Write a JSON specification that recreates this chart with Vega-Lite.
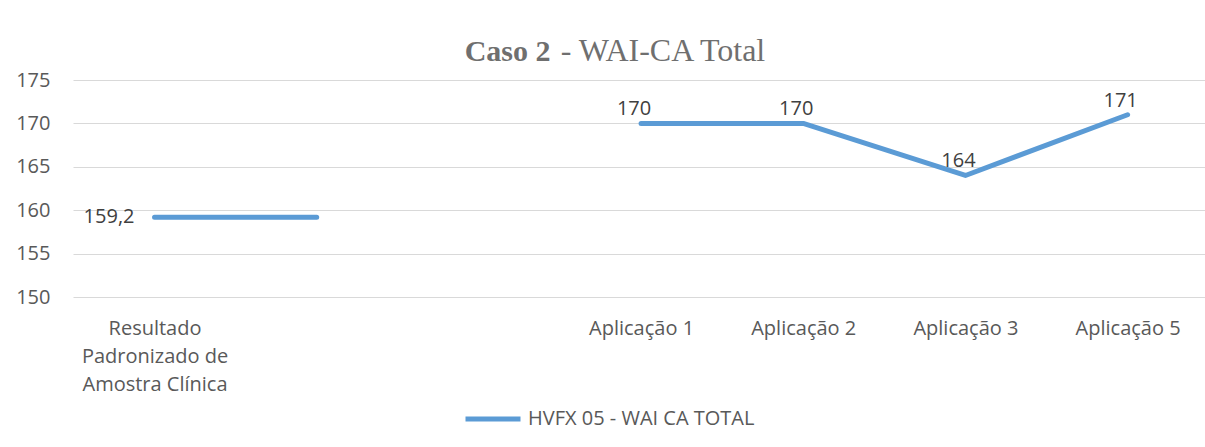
{
  "$schema": "https://vega.github.io/schema/vega-lite/v6.json",
  "autosize": "none",
  "width": 1132,
  "height": 217,
  "padding": {"left": 73, "top": 80, "right": 0, "bottom": 150},
  "background": "white",
  "title": {
    "text": "Caso 2",
    "subtitle": "\u200b\u00a0\u00a0\u00a0\u00a0\u00a0\u00a0\u00a0\u00a0\u00a0\u00a0\u00a0\u00a0- WAI-CA Total",
    "anchor": "start",
    "align": "left",
    "dx": 449,
    "font": "Liberation Serif",
    "fontSize": 30,
    "fontWeight": "bold",
    "color": "#6f6f6f",
    "subtitleFont": "Liberation Serif",
    "subtitleFontSize": 32,
    "subtitleFontWeight": "normal",
    "subtitleColor": "#6f6f6f",
    "subtitlePadding": -31,
    "offset": 1
  },
  "data": {
    "values": [
      {"categoria": "Resultado Padronizado de Amostra Clínica", "valor": 159.2},
      {"categoria": "_2", "valor": 159.2},
      {"categoria": "_3", "valor": null},
      {"categoria": "Aplicação 1", "valor": 170},
      {"categoria": "Aplicação 2", "valor": 170},
      {"categoria": "Aplicação 3", "valor": 164},
      {"categoria": "Aplicação 5", "valor": 171}
    ]
  },
  "encoding": {
    "x": {
      "field": "categoria",
      "type": "nominal",
      "sort": null,
      "scale": {
        "type": "point",
        "domain": ["Resultado Padronizado de Amostra Clínica", "_2", "_3", "Aplicação 1", "Aplicação 2", "Aplicação 3", "Aplicação 5"],
        "padding": 0.49,
        "align": 0.513
      },
      "axis": {
        "title": null,
        "domain": false,
        "ticks": false,
        "grid": false,
        "labelAngle": 0,
        "labelFont": "Open Sans",
        "labelFontSize": 20,
        "labelColor": "#595959",
        "labelBaseline": "top",
        "labelPadding": 21,
        "labelLineHeight": 28,
        "labelOverlap": false,
        "labelLimit": 300,
        "labelExpr": "indexof(datum.value, '_') == 0 ? '' : (datum.value == 'Resultado Padronizado de Amostra Clínica' ? ['Resultado', 'Padronizado de', 'Amostra Clínica'] : datum.value)"
      }
    },
    "y": {
      "field": "valor",
      "type": "quantitative",
      "scale": {"domain": [150, 175], "nice": false, "zero": false},
      "axis": {
        "title": null,
        "values": [150, 155, 160, 165, 170, 175],
        "domain": false,
        "ticks": false,
        "grid": true,
        "gridColor": "#d9d9d9",
        "gridWidth": 1,
        "labelFont": "Open Sans",
        "labelFontSize": 20,
        "labelColor": "#595959",
        "labelPadding": 23,
        "format": "d"
      }
    }
  },
  "layer": [
    {
      "mark": {
        "type": "line",
        "strokeWidth": 5,
        "strokeCap": "round",
        "strokeJoin": "round",
        "invalid": "break-paths-show-domains"
      },
      "encoding": {
        "color": {
          "datum": "HVFX 05 - WAI CA TOTAL",
          "type": "nominal",
          "scale": {"range": ["#5b9bd5"]},
          "legend": {
            "title": null,
            "orient": "none",
            "legendX": 390,
            "legendY": 309,
            "symbolType": "stroke",
            "symbolSize": 3025,
            "symbolStrokeWidth": 5,
            "labelFont": "Open Sans",
            "labelFontSize": 20,
            "labelColor": "#595959",
            "labelOffset": 5,
            "labelLimit": 400,
            "padding": 0
          }
        }
      }
    },
    {
      "transform": [{"filter": "datum.categoria == 'Resultado Padronizado de Amostra Clínica'"}],
      "mark": {
        "type": "text",
        "align": "right",
        "baseline": "middle",
        "dx": -20,
        "font": "Open Sans",
        "fontSize": 20,
        "color": "#404040"
      },
      "encoding": {
        "text": {"field": "valor", "type": "quantitative", "format": ".1~f"}
      }
    },
    {
      "transform": [{"filter": "indexof(datum.categoria, 'Aplicação') == 0"}],
      "mark": {
        "type": "text",
        "align": "center",
        "baseline": "alphabetic",
        "dx": -7,
        "dy": -8,
        "font": "Open Sans",
        "fontSize": 20,
        "color": "#404040"
      },
      "encoding": {
        "text": {"field": "valor", "type": "quantitative", "format": ".1~f"}
      }
    }
  ],
  "config": {
    "view": {"stroke": null},
    "locale": {
      "number": {"decimal": ",", "thousands": ".", "grouping": [3], "currency": ["R$", ""]}
    }
  }
}
